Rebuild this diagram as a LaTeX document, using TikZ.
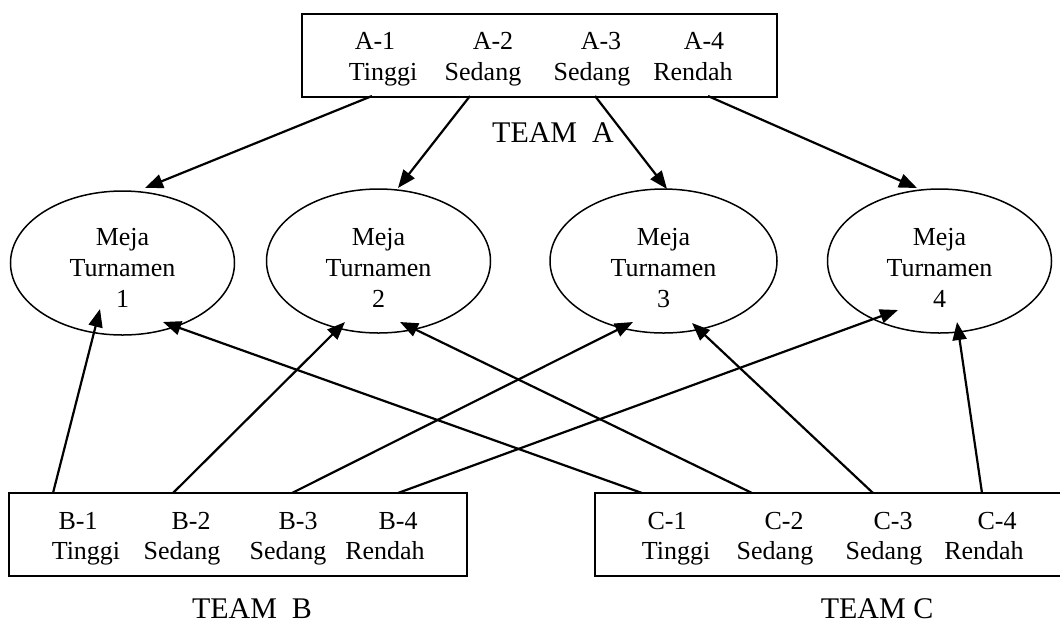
\documentclass[tikz,border=0pt]{standalone}
\usepackage{fontspec}
\setmainfont{Liberation Serif}
\usetikzlibrary{arrows.meta,shapes.geometric}
\begin{document}
\begin{tikzpicture}[x=0.5pt,y=-0.5pt,
  lbl/.style={font=\fontsize{13}{15.5}\selectfont, inner sep=0pt, anchor=base},
  team/.style={font=\fontsize{15}{18}\selectfont, inner sep=0pt, anchor=base},
  teambox/.style={draw, line width=1pt, rectangle, inner sep=0pt, minimum height=41.5pt},
  meja/.style={draw, ellipse, line width=0.75pt, minimum width=112pt, minimum height=72pt, inner sep=0pt},
  mejatext/.style={font=\fontsize{13}{15.5}\selectfont, inner sep=0pt, align=center},
  conn/.style={line width=1.1pt, -{Triangle[length=9pt,width=7pt]}}]
\useasboundingbox (0,0) rectangle (1060,623);
\clip (0,0) rectangle (1060,623);

% team boxes
\node[teambox, minimum width=237.5pt] (boxA) at (539.5,55) {};
\node[teambox, minimum width=229pt] (boxB) at (238,534.5) {};
\node[teambox, minimum width=238pt] (boxC) at (833,534.5) {};

% box texts
\foreach \x/\t [count=\i] in {375/A-1, 493/A-2, 601/A-3, 704/A-4}
  \node[lbl] (aa\i) at (\x,49) {\t};
\foreach \x/\t [count=\i] in {383/Tinggi, 483/Sedang, 592/Sedang, 693/Rendah}
  \node[lbl] (ab\i) at (\x,80) {\t};
\foreach \x/\t [count=\i] in {78/B-1, 191/B-2, 298/B-3, 398/B-4}
  \node[lbl] (ba\i) at (\x,529) {\t};
\foreach \x/\t [count=\i] in {86/Tinggi, 182/Sedang, 288/Sedang, 385/Rendah}
  \node[lbl] (bb\i) at (\x,559) {\t};
\foreach \x/\t [count=\i] in {667/C-1, 784/C-2, 893/C-3, 997/C-4}
  \node[lbl] (ca\i) at (\x,529) {\t};
\foreach \x/\t [count=\i] in {676/Tinggi, 775/Sedang, 884/Sedang, 984/Rendah}
  \node[lbl] (cb\i) at (\x,559) {\t};

% team labels
\node[team] (teamA) at (553,142) {TEAM~~A};
\node[team] (teamB) at (252,618) {TEAM~~B};
\node[team] (teamC) at (877,618) {TEAM C};

% tournament tables
\node[meja] (e1) at (122.5,263) {};
\node[meja] (e2) at (378.5,261) {};
\node[meja, minimum width=113.5pt] (e3) at (663.5,261) {};
\node[meja] (e4) at (939.5,261) {};
\node[mejatext] (e1t) at (122.5,268) {Meja\\Turnamen\\1};
\node[mejatext] (e2t) at (378.5,268) {Meja\\Turnamen\\2};
\node[mejatext] (e3t) at (663.5,268) {Meja\\Turnamen\\3};
\node[mejatext] (e4t) at (939.5,268) {Meja\\Turnamen\\4};

% connector end points
\coordinate (sA1) at (372,96);  \coordinate (tA1) at (145,188);
\coordinate (sA2) at (470,96);  \coordinate (tA2) at (398,188);
\coordinate (sA3) at (595,96);  \coordinate (tA3) at (667,189);
\coordinate (sA4) at (708,96);  \coordinate (tA4) at (917,188);
\coordinate (sB1) at (53,493);  \coordinate (tB1) at (100,309);
\coordinate (sB2) at (173,493); \coordinate (tB2) at (345,322);
\coordinate (sB3) at (292,493); \coordinate (tB3) at (633,322);
\coordinate (sB4) at (398,493); \coordinate (tB4) at (898,310);
\coordinate (sC1) at (642,493); \coordinate (tC1) at (163,322);
\coordinate (sC2) at (752,493); \coordinate (tC2) at (400,322);
\coordinate (sC3) at (873,493); \coordinate (tC3) at (692,323);
\coordinate (sC4) at (982,493); \coordinate (tC4) at (957,322);

\foreach \s/\t in {sA1/tA1, sA2/tA2, sA3/tA3, sA4/tA4,
                   sB1/tB1, sB2/tB2, sB3/tB3, sB4/tB4,
                   sC1/tC1, sC2/tC2, sC3/tC3, sC4/tC4}
  \draw[conn] (\s) -- (\t);
\end{tikzpicture}
\end{document}
